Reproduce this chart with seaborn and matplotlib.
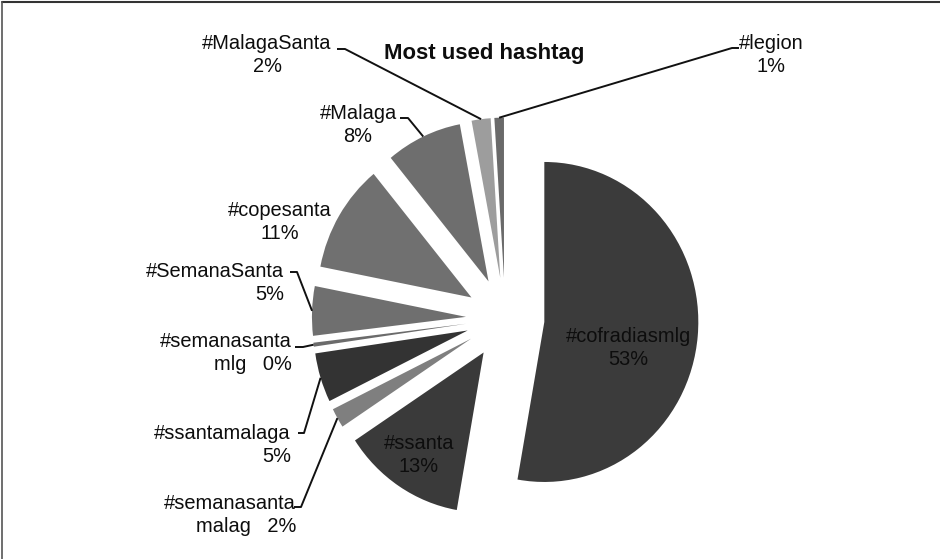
import math

import matplotlib
matplotlib.use("Agg")
import matplotlib.pyplot as plt
from matplotlib.lines import Line2D
import seaborn as sns

# Hashtag shares, clockwise from 12 o'clock
hashtags = ["#cofradiasmlg", "#ssanta", "#semanasantamalag", "#ssantamalaga",
            "#semanasantamlg", "#SemanaSanta", "#copesanta", "#Malaga",
            "#MalagaSanta", "#legion"]
shares = [53, 13, 2, 5, 0.4, 5, 11, 8, 2, 1]
title = "Most used hashtag"

# Grey fills, one per hashtag
fills = ["#3b3b3b", "#3a3a3a", "#7f7f7f", "#333333", "#6b6b6b",
         "#6f6f6f", "#707070", "#6e6e6e", "#9d9d9d", "#6a6a6a"]

sns.set_theme(style="white")
plt.rcParams["font.family"] = ["Liberation Sans", "DejaVu Sans"]

W, H = 940, 559
fig = plt.figure(figsize=(W / 100, H / 100), dpi=100)
ax = fig.add_axes([0, 0, 1, 1])

# pie placement in pixels (slightly taller than wide)
CX, CY = 505.2, 318.4
RX, RY = 154.0, 160.0


def px(x, y):
    """Pixel position (from top-left) to data coordinates."""
    return (x - CX) / RX, (CY - y) / RY


wedges, _ = ax.pie(shares, colors=fills, startangle=90, counterclock=False,
                   explode=[0.255] * len(shares), radius=1.0,
                   wedgeprops=dict(linewidth=0))
ax.set_aspect("auto")
ax.set_xlim(-CX / RX, (W - CX) / RX)
ax.set_ylim((CY - H) / RY, CY / RY)
ax.axis("off")

total = sum(shares)
pct = [f"{round(v / total * 100):.0f}%" for v in shares]

# label text wrapping, anchor (px), alignment, leader elbow points (px)
layout = {
    "#cofradiasmlg":     ("#cofradiasmlg\n{p}", (628, 348), "center", None),
    "#ssanta":           ("#ssanta\n{p}", (419, 455), "center", None),
    "#semanasantamalag": ("#semanasanta\nmalag   {p}", (296, 515), "right",
                          [(294, 507), (301, 507)]),
    "#ssantamalaga":     ("#ssantamalaga\n{p}", (291, 445), "right",
                          [(298, 433), (304, 433)]),
    "#semanasantamlg":   ("#semanasanta\nmlg   {p}", (292, 353), "right",
                          [(295, 347), (303, 347)]),
    "#SemanaSanta":      ("#SemanaSanta\n{p}", (284, 283), "right",
                          [(290, 272), (297, 272)]),
    "#copesanta":        ("#copesanta\n{p}", (280, 222), "center", None),
    "#Malaga":           ("#Malaga\n{p}", (358, 125), "center",
                          [(400, 118), (408, 118)]),
    "#MalagaSanta":      ("#MalagaSanta\n{p}", (267, 55), "center",
                          [(337, 49), (345, 49)]),
    "#legion":           ("#legion\n{p}", (771, 55), "center",
                          [(739, 48), (732, 48)]),
}

for tag, w, p in zip(hashtags, wedges, pct):
    text, (lx, ly), ha, elbow = layout[tag]
    tx, ty = px(lx, ly)
    ax.text(tx, ty, text.format(p=p), ha=ha, va="center", multialignment=ha,
            fontsize=14.4, color="#0d0d0d", linespacing=1.3)
    if elbow:
        # leader ends on the outer arc of the wedge, at its middle angle
        m = math.radians((w.theta1 + w.theta2) / 2)
        ex = w.center[0] + w.r * math.cos(m)
        ey = w.center[1] + w.r * math.sin(m)
        pts = [px(*e) for e in elbow] + [(ex, ey)]
        ax.plot([q[0] for q in pts], [q[1] for q in pts], color="#111111",
                lw=1.4, solid_capstyle="butt")

tx, ty = px(484, 53)
ax.text(tx, ty, title, ha="center", va="center", fontsize=15.9,
        fontweight="bold", color="#0d0d0d")

# frame edges along the top and left
fig.add_artist(Line2D([2 / W, 1], [1 - 2 / H, 1 - 2 / H],
                      transform=fig.transFigure, color="#333333", lw=1.5))
fig.add_artist(Line2D([2 / W, 2 / W], [0, 1 - 2 / H],
                      transform=fig.transFigure, color="#555555", lw=1.2))

fig.savefig("out.png", dpi=100, facecolor="white")
